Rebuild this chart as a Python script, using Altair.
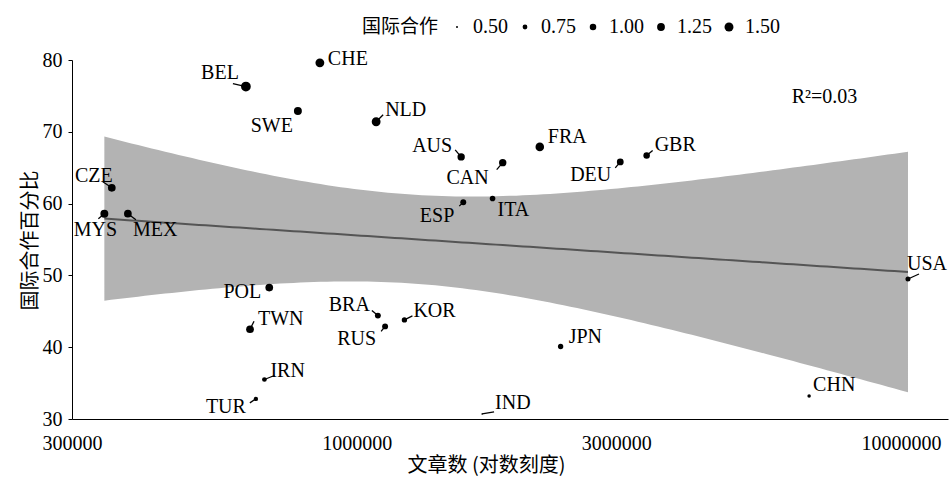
import math
import numpy as np
import pandas as pd
import altair as alt

# ---------------- data ----------------
countries = ["BEL", "CHE", "SWE", "NLD", "AUS", "CZE", "MYS", "MEX", "ESP", "FRA",
             "CAN", "DEU", "GBR", "ITA", "POL", "TWN", "BRA", "RUS", "KOR", "IRN",
             "TUR", "USA", "JPN", "CHN", "IND"]
articles = [626000, 856000, 780000, 1086000, 1556000, 355000, 344000, 380000, 1570000, 2170000,
            1855000, 3050000, 3410000, 1777000, 691000, 637000, 1094000, 1128000, 1224000, 677000,
            653000, 10300000, 2370000, 6780000, 1700000]
intl_share = [76.3, 79.6, 72.9, 71.4, 66.5, 62.2, 58.6, 58.6, 60.2, 67.9,
              65.7, 65.8, 66.7, 60.7, 48.3, 42.5, 44.4, 42.9, 43.8, 35.5,
              32.8, 49.5, 40.1, 33.2, 30.7]
collab = [1.70, 1.48, 1.28, 1.48, 1.16, 1.23, 1.28, 1.23, 0.91, 1.42,
          1.16, 1.06, 1.00, 0.86, 1.23, 1.23, 0.91, 0.91, 0.82, 0.74,
          0.70, 0.78, 0.82, 0.61, 0.48]
legend_values = [0.50, 0.75, 1.00, 1.25, 1.50]
x_ticks = [300000, 1000000, 3000000, 10000000]
y_ticks = [30, 40, 50, 60, 70, 80]
r2_text = "R²=0.03"

# ---------------- label layout (pixel offsets from the dot) ----------------
# name: (align, dx, dy, leader_dx or None, leader_dy or None)
label_layout = {
    "BEL": ("right", -7, -14, -13, -3),
    "CHE": ("left", 8, -4, None, None),
    "SWE": ("right", -5, 15, None, None),
    "NLD": ("left", 9, -12, 7, -7),
    "AUS": ("right", -9, -11, -6, -7),
    "CZE": ("right", 1, -12, -9, -6),
    "MYS": ("center", -9, 16, -6, 5),
    "MEX": ("left", 5, 16, 8, 6),
    "ESP": ("right", -9, 14, -4, 4),
    "FRA": ("left", 8, -10, None, None),
    "CAN": ("right", -14, 15, -6, 7),
    "DEU": ("right", -9, 13, -5, 6),
    "GBR": ("left", 8, -10, 6, -5),
    "ITA": ("left", 5, 11, None, None),
    "POL": ("right", -8, 4, None, None),
    "TWN": ("left", 8, -10, 4, -8),
    "BRA": ("right", -8, -11, -6, -5),
    "RUS": ("right", -9, 13, -4, 5),
    "KOR": ("left", 9, -9, 8, -4),
    "IRN": ("left", 6, -9, 10, -4),
    "TUR": ("right", -10, 8, -6, 4),
    "USA": ("left", -1, -15, 11, -5),
    "JPN": ("left", 8, -9, None, None),
    "CHN": ("left", 4, -11, None, None),
    "IND": ("left", 13, -11, 12, -2),
}

W, H = 876, 359
XMIN, XMAX = 300000, 12200000
YMIN, YMAX = 30, 80
PX_DEC = W / math.log10(XMAX / XMIN)
PX_UNIT = H / (YMAX - YMIN)

SERIF = "'Liberation Serif', 'Times New Roman', 'Noto Sans CJK SC', serif"
CJK = "'Noto Sans CJK SC', 'Liberation Serif', sans-serif"

rows = []
for c, a, s, k in zip(countries, articles, intl_share, collab):
    al, dx, dy, ldx, ldy = label_layout[c]
    r = dict(country=c, articles=a, share=s, collab=k, align=al,
             lab_x=a * 10 ** (dx / PX_DEC), lab_y=s - dy / PX_UNIT)
    if ldx is not None:
        r["lead_x"] = a * 10 ** (ldx / PX_DEC)
        r["lead_y"] = s - ldy / PX_UNIT
    rows.append(r)
df = pd.DataFrame(rows)

# ---------------- OLS fit with 95% confidence band ----------------
lx = np.log10(np.array(articles, dtype=float))
yy = np.array(intl_share, dtype=float)
n = len(lx)
b1, b0 = np.polyfit(lx, yy, 1)
resid = yy - (b0 + b1 * lx)
s_err = math.sqrt(np.sum(resid ** 2) / (n - 2))
t_crit = 2.069  # t(0.975, df=23)
sxx = np.sum((lx - lx.mean()) ** 2)
gx = np.linspace(lx.min(), lx.max(), 120)
fit = b0 + b1 * gx
half = t_crit * s_err * np.sqrt(1.0 / n + (gx - lx.mean()) ** 2 / sxx)
band = pd.DataFrame(dict(articles=10 ** gx, fit=fit, lo=fit - half, hi=fit + half))

xscale = alt.Scale(type="log", domain=[XMIN, XMAX], nice=False)
yscale = alt.Scale(domain=[YMIN, YMAX], nice=False, zero=False)

xaxis = alt.Axis(values=x_ticks, format="d", ticks=False, tickSize=0, grid=False,
                 labelFontSize=20, labelFont=SERIF, labelPadding=14, labelColor="black",
                 labelFlush=False, domainColor="black",
                 title="文章数 (对数刻度)", titleFont=CJK, titleFontSize=20,
                 titleFontWeight="normal", titleColor="black",
                 titleX=414, titleY=46, titleBaseline="middle", titleAlign="center")
yaxis = alt.Axis(values=y_ticks, grid=False, tickSize=4, tickColor="black",
                 labelFontSize=20, labelFont=SERIF, labelPadding=6, labelColor="black",
                 domainColor="black",
                 title="国际合作百分比", titleFont=CJK, titleFontSize=20,
                 titleFontWeight="normal", titleColor="black",
                 titleX=-42, titleY=180, titleBaseline="middle", titleAlign="center",
                 titleAngle=270)

band_layer = alt.Chart(band).mark_area(color="#b3b3b3", opacity=1).encode(
    x=alt.X("articles:Q", scale=xscale, axis=xaxis),
    y=alt.Y("lo:Q", scale=yscale, axis=yaxis),
    y2="hi:Q",
)
line_layer = alt.Chart(band).mark_line(color="#555555", strokeWidth=2).encode(
    x=alt.X("articles:Q", scale=xscale),
    y=alt.Y("fit:Q", scale=yscale),
)
lead_layer = alt.Chart(df).transform_filter("isValid(datum.lead_x)").mark_rule(
    color="black", strokeWidth=1.3).encode(
    x=alt.X("articles:Q", scale=xscale),
    y=alt.Y("share:Q", scale=yscale),
    x2="lead_x:Q",
    y2="lead_y:Q",
)
points = alt.Chart(df).mark_circle(color="black", opacity=1).encode(
    x=alt.X("articles:Q", scale=xscale),
    y=alt.Y("share:Q", scale=yscale),
    size=alt.Size("collab:Q",
                  scale=alt.Scale(domain=[0.5, 1.5], range=[4, 80], zero=False),
                  legend=alt.Legend(title="国际合作", values=legend_values, format=".2f",
                                    orient="none", legendX=290, legendY=-43,
                                    direction="horizontal", titleOrient="left",
                                    titleFont=CJK, titleFontSize=19, titleFontWeight="normal",
                                    titleColor="black", titleBaseline="middle",
                                    labelFont=SERIF, labelFontSize=20, labelColor="black",
                                    symbolType="circle", symbolFillColor="black",
                                    symbolStrokeWidth=0, symbolOpacity=1,
                                    labelOffset=6, columnPadding=7, titlePadding=8)),
)
text_layers = []
for al in ["left", "right", "center"]:
    text_layers.append(
        alt.Chart(df).transform_filter(alt.datum.align == al).mark_text(
            align=al, baseline="middle", font=SERIF, fontSize=20, color="black").encode(
            x=alt.X("lab_x:Q", scale=xscale),
            y=alt.Y("lab_y:Q", scale=yscale),
            text="country:N",
        )
    )
r2_layer = alt.Chart(pd.DataFrame(dict(x=[6300000], y=[74.9], t=[r2_text]))).mark_text(
    align="left", baseline="middle", font=SERIF, fontSize=20, color="black").encode(
    x=alt.X("x:Q", scale=xscale), y=alt.Y("y:Q", scale=yscale), text="t:N")

chart = alt.layer(band_layer, line_layer, lead_layer, points, *text_layers, r2_layer).properties(
    width=W, height=H,
    padding={"left": 72, "top": 60, "right": 1, "bottom": 62},
    autosize=alt.AutoSizeParams(type="none"),
    background="white",
).configure_view(stroke=None)

chart.save("out.html", embed_options={"renderer": "svg", "actions": False})
